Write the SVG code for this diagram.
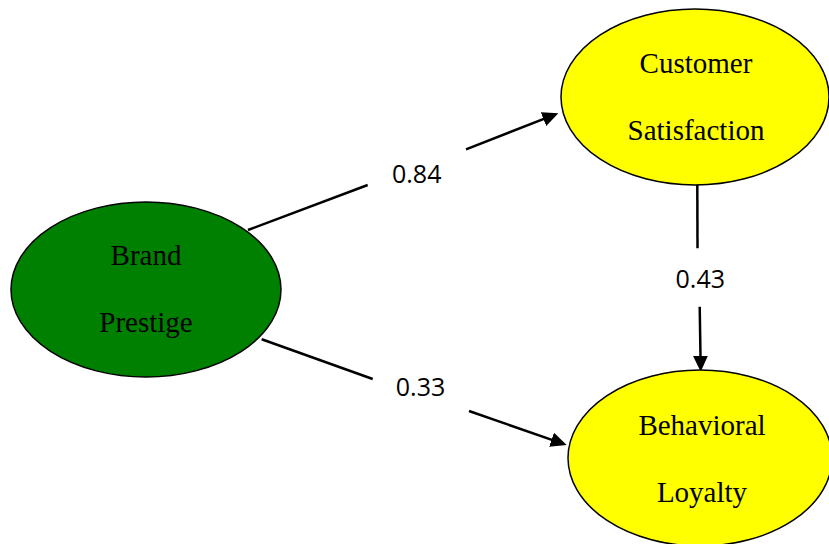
<svg xmlns="http://www.w3.org/2000/svg" width="829" height="544" viewBox="0 0 829 544">
<defs>
<marker id="arr" markerUnits="userSpaceOnUse" markerWidth="16" markerHeight="15" viewBox="0 0 16 15" refX="8" refY="7.5" orient="auto">
<path d="M0,0 L16,7.5 L0,15 z" fill="#000"/>
</marker>
<style>
.node{stroke:#000;stroke-width:1.5}
.nt{font-family:"Liberation Serif","Times New Roman",serif;font-size:29px;fill:#000;text-anchor:middle}
.edge{stroke:#000;stroke-width:2.5;fill:none}
.el{font-family:"Open Sans","Liberation Sans",sans-serif;font-size:25px;fill:#000;text-anchor:middle}
</style>
</defs>
<rect width="829" height="544" fill="#fff"/>
<g id="connectors">
<path class="edge" d="M248,230 L367.7,185"/>
<path class="edge" d="M466,149.3 L550.9,116.2" marker-end="url(#arr)"/>
<text class="el" x="416.7" y="182.7">0.84</text>
<path class="edge" d="M261.7,339.3 L372.7,379"/>
<path class="edge" d="M469,411 L559.1,442.4" marker-end="url(#arr)"/>
<text class="el" x="420.5" y="395.7">0.33</text>
<path class="edge" d="M697.3,185 L697.5,248.3"/>
<path class="edge" d="M699.7,306.7 L700.6,363.7" marker-end="url(#arr)"/>
<text class="el" x="700.3" y="288">0.43</text>
</g>
<g id="brand-prestige">
<ellipse class="node" cx="146" cy="289.5" rx="135" ry="87.5" fill="#008000"/>
<text class="nt" x="146" y="265">Brand</text>
<text class="nt" x="146" y="332">Prestige</text>
</g>
<g id="customer-satisfaction">
<ellipse class="node" cx="695" cy="97" rx="134" ry="88" fill="#ffff00"/>
<text class="nt" x="696" y="73">Customer</text>
<text class="nt" x="696" y="140">Satisfaction</text>
</g>
<g id="behavioral-loyalty">
<ellipse class="node" cx="700" cy="458" rx="132" ry="88" fill="#ffff00"/>
<text class="nt" x="702" y="435">Behavioral</text>
<text class="nt" x="702" y="502">Loyalty</text>
</g>
</svg>
